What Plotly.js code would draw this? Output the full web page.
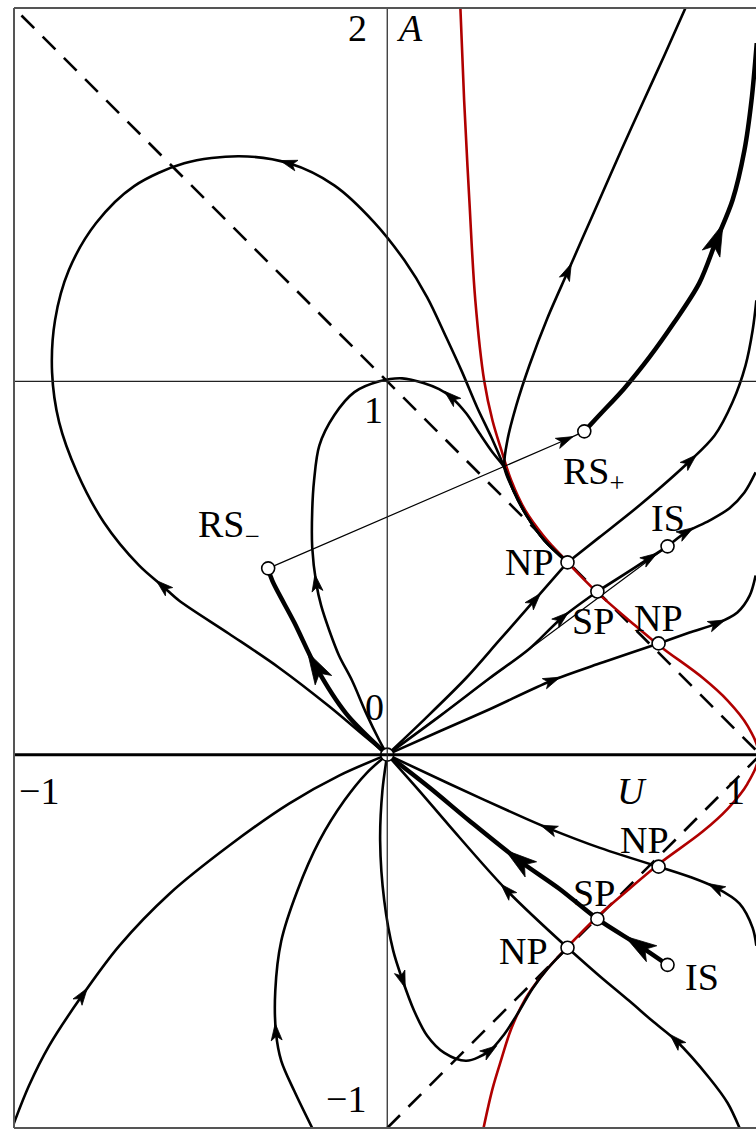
<!DOCTYPE html>
<html><head><meta charset="utf-8">
<script src="https://cdn.plot.ly/plotly-3.0.1.min.js"></script>
<style>html,body{margin:0;padding:0;background:#fff;overflow:hidden}</style>
</head><body><div id="chart" style="width:756px;height:1130px"></div>
<script>
// ---- singular curve (red) ----
const redX = [0.196,0.206,0.220,0.236,0.260,0.282,0.306,0.332,0.370,0.418,0.483,0.563,0.649,0.729,0.845,0.912,0.965,0.995,
              0.965,0.912,0.845,0.729,0.649,0.563,0.483,0.418,0.370,0.332,0.306,0.282,0.258];
const redY = [2.0,1.753,1.485,1.217,1.0,0.895,0.815,0.735,0.654,0.587,0.515,0.434,0.359,0.292,0.206,0.145,0.078,0,
              -0.078,-0.145,-0.206,-0.292,-0.359,-0.434,-0.515,-0.587,-0.654,-0.735,-0.815,-0.895,-1.0];
// ---- dashed lines ----
const dashUpX = [-0.98, 1.0], dashUpY = [1.98, 0.0];
const dashLoX = [0.0, 1.0],  dashLoY = [-1.0, 0.0];
// ---- trajectories ----
const bigLoopX = [0,-0.056,-0.155,-0.290,-0.424,-0.558,-0.600,-0.665,-0.759,-0.831,-0.879,-0.898,-0.890,-0.853,-0.780,-0.678,-0.544,-0.397,-0.263,-0.142,-0.035,0.046,0.107,0.158,0.201,0.241,0.279,0.314,0.338,0.373,0.421,0.483];
const bigLoopY = [0,0.046,0.129,0.233,0.324,0.413,0.450,0.507,0.622,0.756,0.890,1.024,1.164,1.298,1.424,1.523,1.584,1.603,1.584,1.525,1.426,1.324,1.225,1.118,1.024,0.930,0.850,0.769,0.708,0.641,0.574,0.515];
const smallLoopX = [0,-0.021,-0.056,-0.094,-0.129,-0.155,-0.177,-0.190,-0.201,-0.201,-0.196,-0.182,-0.142,-0.088,-0.021,0.040,0.099,0.139,0.172,0.212,0.247,0.282,0.314,0.338,0.373,0.421,0.483];
const smallLoopY = [0,0.038,0.110,0.198,0.265,0.332,0.399,0.458,0.555,0.654,0.735,0.828,0.909,0.971,1.0,1.008,0.995,0.979,0.957,0.914,0.861,0.810,0.769,0.708,0.641,0.574,0.515];
const topCurveX = [0.799,0.743,0.684,0.627,0.568,0.523,0.483,0.429,0.381,0.346,0.322,0.314,0.338,0.373,0.421,0.483];
const topCurveY = [2.0,1.874,1.745,1.619,1.485,1.383,1.292,1.169,1.043,0.936,0.842,0.769,0.708,0.641,0.574,0.515];
const rsPlusX = [0.528,0.568,0.635,0.702,0.769,0.836,0.882,0.925,0.957,0.976,0.990];
const rsPlusY = [0.866,0.909,0.981,1.064,1.158,1.263,1.378,1.485,1.619,1.753,1.906];
const rsLineX = [-0.319,0.475,0.528];
const rsLineY = [0.499,0.842,0.866];
const rsMinusX = [0,-0.110,-0.190,-0.249,-0.308,-0.319];
const rsMinusY = [0,0.110,0.233,0.354,0.466,0.499];
const oNp1X = [0,0.099,0.212,0.300,0.394,0.483];
const oNp1Y = [0,0.094,0.206,0.306,0.413,0.515];
const np1OutX = [0.483,0.568,0.676,0.810,0.877,0.925,0.960,0.979,0.989];
const np1OutY = [0.515,0.582,0.668,0.786,0.855,0.944,1.043,1.137,1.217];
const oSp1X = [0,0.139,0.273,0.381,0.466,0.563];
const oSp1Y = [0,0.102,0.204,0.284,0.365,0.437];
const sp1IsX = [0.563,0.635,0.702,0.751];
const sp1IsY = [0.437,0.483,0.526,0.558];
const oIs1X = [0,0.751], oIs1Y = [0,0.558];
const is1OutX = [0.751,0.799,0.863,0.917,0.957,0.987];
const is1OutY = [0.558,0.595,0.627,0.660,0.702,0.756];
const oNp2X = [0,0.139,0.273,0.440,0.568,0.727];
const oNp2Y = [0,0.062,0.121,0.198,0.244,0.298];
const np2OutX = [0.727,0.810,0.882,0.938,0.971,0.987];
const np2OutY = [0.298,0.327,0.351,0.381,0.426,0.480];
const oNp3X = [0,0.166,0.373,0.434,0.568,0.727];
const oNp3Y = [0,-0.078,-0.172,-0.198,-0.249,-0.300];
const np3OutX = [0.727,0.810,0.882,0.944,0.979,0.989];
const np3OutY = [-0.300,-0.327,-0.357,-0.399,-0.464,-0.512];
const is2OX = [0.751,0.676,0.563,0.461,0.354,0.220,0.113,0];
const is2OY = [-0.563,-0.512,-0.440,-0.359,-0.284,-0.177,-0.088,0];
const oNp4X = [0,0.086,0.166,0.322,0.483];
const oNp4Y = [0,-0.097,-0.190,-0.365,-0.517];
const np4OutX = [0.483,0.568,0.649,0.710,0.775,0.863,0.912,0.944];
const np4OutY = [-0.517,-0.592,-0.660,-0.713,-0.767,-0.866,-0.933,-1.0];
const lowLoopX = [0,-0.013,-0.019,-0.008,0.016,0.040,0.072,0.107,0.153,0.212,0.273,0.314,0.354,0.389,0.429,0.483];
const lowLoopY = [0,-0.097,-0.231,-0.391,-0.525,-0.601,-0.686,-0.753,-0.799,-0.820,-0.794,-0.748,-0.686,-0.627,-0.574,-0.517];
const l2X = [-0.201,-0.249,-0.284,-0.298,-0.300,-0.284,-0.241,-0.182,-0.115,-0.054,0];
const l2Y = [-1.0,-0.901,-0.820,-0.745,-0.633,-0.499,-0.365,-0.231,-0.123,-0.048,0];
const l1X = [-1.005,-0.960,-0.906,-0.818,-0.718,-0.584,-0.424,-0.263,-0.129,0];
const l1Y = [-1.0,-0.887,-0.780,-0.646,-0.512,-0.373,-0.244,-0.131,-0.056,0];
// ---- singular points ----
const ptX = [0,0.528,-0.319,0.483,0.563,0.751,0.727,0.727,0.563,0.483,0.751];
const ptY = [0,0.866,0.499,0.515,0.437,0.558,0.298,-0.300,-0.440,-0.517,-0.563];
// ---- labels ----
const labTxt = ['2','<i>A</i>','1','0','\u22121','<i>U</i>','1','\u22121','RS<sub>\u2212</sub>','RS<sub>+</sub>','IS','NP','SP','NP','NP','SP','NP','IS'];
const labX = [-0.080,0.059,-0.038,-0.035,-0.933,0.657,0.933,-0.110,-0.424,0.552,0.751,0.381,0.552,0.727,0.689,0.555,0.365,0.842];
const labY = [1.946,1.946,0.922,0.129,-0.097,-0.097,-0.097,-0.922,0.609,0.751,0.635,0.517,0.357,0.367,-0.228,-0.370,-0.525,-0.595];

const curves = {
  bigLoop:[bigLoopX,bigLoopY,2.6], smallLoop:[smallLoopX,smallLoopY,2.6], topCurve:[topCurveX,topCurveY,2.6],
  rsPlus:[rsPlusX,rsPlusY,4.5], rsLine:[rsLineX,rsLineY,1.2], rsMinus:[rsMinusX,rsMinusY,4.5],
  oNp1:[oNp1X,oNp1Y,2.6], np1Out:[np1OutX,np1OutY,2.6], oSp1:[oSp1X,oSp1Y,2.6], sp1Is:[sp1IsX,sp1IsY,2.8],
  oIs1:[oIs1X,oIs1Y,1.2], is1Out:[is1OutX,is1OutY,2.6], oNp2:[oNp2X,oNp2Y,2.6], np2Out:[np2OutX,np2OutY,2.6],
  oNp3:[oNp3X,oNp3Y,2.6], np3Out:[np3OutX,np3OutY,2.6], is2O:[is2OX,is2OY,4.5], oNp4:[oNp4X,oNp4Y,2.6],
  np4Out:[np4OutX,np4OutY,2.6], lowLoop:[lowLoopX,lowLoopY,2.6], l2:[l2X,l2Y,2.6], l1:[l1X,l1Y,2.6]
};
// arrows: [curve, vertex index, direction along curve, big?]
const arrows = [
  ['bigLoop',6,1,0],['bigLoop',18,-1,0],['smallLoop',7,1,0],['smallLoop',18,-1,0],['topCurve',6,-1,0],
  ['rsPlus',6,1,1],['rsLine',1,1,0],['rsMinus',2,1,1],['oNp1',4,1,0],['oSp1',4,1,0],['sp1Is',2,1,0],
  ['is1Out',1,1,0],['np1Out',3,1,0],['oNp2',3,1,0],['np2Out',2,1,0],['oNp3',3,-1,0],['np3Out',2,-1,0],
  ['is2O',1,1,1],['is2O',4,1,1],['oNp4',3,-1,0],['np4Out',4,-1,0],['lowLoop',10,1,0],['lowLoop',5,1,0],
  ['l2',3,1,0],['l1',3,1,0]
];

const PX = 742/1.988, PY = 1120/3; // pixels per data unit
const traces = [];
traces.push({x:dashUpX,y:dashUpY,mode:'lines',line:{color:'#000',width:2.6,dash:'18px,12px'},hoverinfo:'skip'});
traces.push({x:dashLoX,y:dashLoY,mode:'lines',line:{color:'#000',width:2.6,dash:'18px,12px'},hoverinfo:'skip'});
traces.push({x:redX,y:redY,mode:'lines',line:{color:'#b00000',width:2.6,shape:'spline'},hoverinfo:'skip'});
for (const k in curves) {
  const c = curves[k];
  traces.push({x:c[0],y:c[1],mode:'lines',line:{color:'#000',width:c[2],shape:'spline',smoothing:0.9},hoverinfo:'skip'});
}
// arrowheads as filled polygons oriented along the curve
const hx=[], hy=[];
for (const a of arrows) {
  const c = curves[a[0]], i=a[1], n=c[0].length;
  const i0=Math.max(0,i-1), i1=Math.min(n-1,i+1);
  let dx=(c[0][i1]-c[0][i0])*PX*a[2], dy=(c[1][i1]-c[1][i0])*PY*a[2];
  const m=Math.hypot(dx,dy); dx/=m; dy/=m;
  const nx=-dy, ny=dx;
  const L = a[3]?32:17, W = a[3]?19:11;
  const cx=c[0][i]*PX, cy=c[1][i]*PY;
  const pts = [[cx+dx*L*0.55, cy+dy*L*0.55],
               [cx-dx*L*0.45+nx*W/2, cy-dy*L*0.45+ny*W/2],
               [cx-dx*L*0.2, cy-dy*L*0.2],
               [cx-dx*L*0.45-nx*W/2, cy-dy*L*0.45-ny*W/2]];
  for (const p of pts) { hx.push(p[0]/PX); hy.push(p[1]/PY); }
  hx.push(pts[0][0]/PX); hy.push(pts[0][1]/PY);
  hx.push(null); hy.push(null);
}
traces.push({x:hx,y:hy,mode:'lines',fill:'toself',fillcolor:'#000',line:{color:'#000',width:0.8},hoverinfo:'skip'});
traces.push({x:ptX,y:ptY,mode:'markers',marker:{symbol:'circle',size:13,color:'#fff',line:{color:'#000',width:1.6}},hoverinfo:'skip'});

const annotations = labTxt.map((t,i)=>({x:labX[i],y:labY[i],text:t,showarrow:false,xanchor:'center',yanchor:'middle',
  font:{family:'Liberation Serif',size:38,color:'#000'}}));

const shapes = [
  {type:'line',xref:'x',yref:'y',x0:-1,x1:1.05,y0:0,y1:0,line:{color:'#000',width:3}},
  {type:'line',xref:'x',yref:'y',x0:-1,x1:1.05,y0:1,y1:1,line:{color:'#222',width:1.2}},
  {type:'line',xref:'x',yref:'y',x0:0,x1:0,y0:-1,y1:2,line:{color:'#222',width:1.2}},
  {type:'line',xref:'paper',yref:'paper',x0:0,x1:0,y0:0,y1:1,line:{color:'#555',width:2}},
  {type:'line',xref:'paper',yref:'paper',x0:0,x1:1.02,y0:1,y1:1,line:{color:'#555',width:2}},
  {type:'line',xref:'paper',yref:'paper',x0:0,x1:1.02,y0:0,y1:0,line:{color:'#555',width:2}}
];

const layout = {
  width:756,height:1130,margin:{l:14,r:0,t:8,b:2},showlegend:false,
  paper_bgcolor:'#fff',plot_bgcolor:'#fff',
  xaxis:{range:[-1,0.988],visible:false,fixedrange:true},
  yaxis:{range:[-1,2],visible:false,fixedrange:true},
  shapes:shapes,annotations:annotations
};
Plotly.newPlot('chart',traces,layout,{staticPlot:true});
</script></body></html>
